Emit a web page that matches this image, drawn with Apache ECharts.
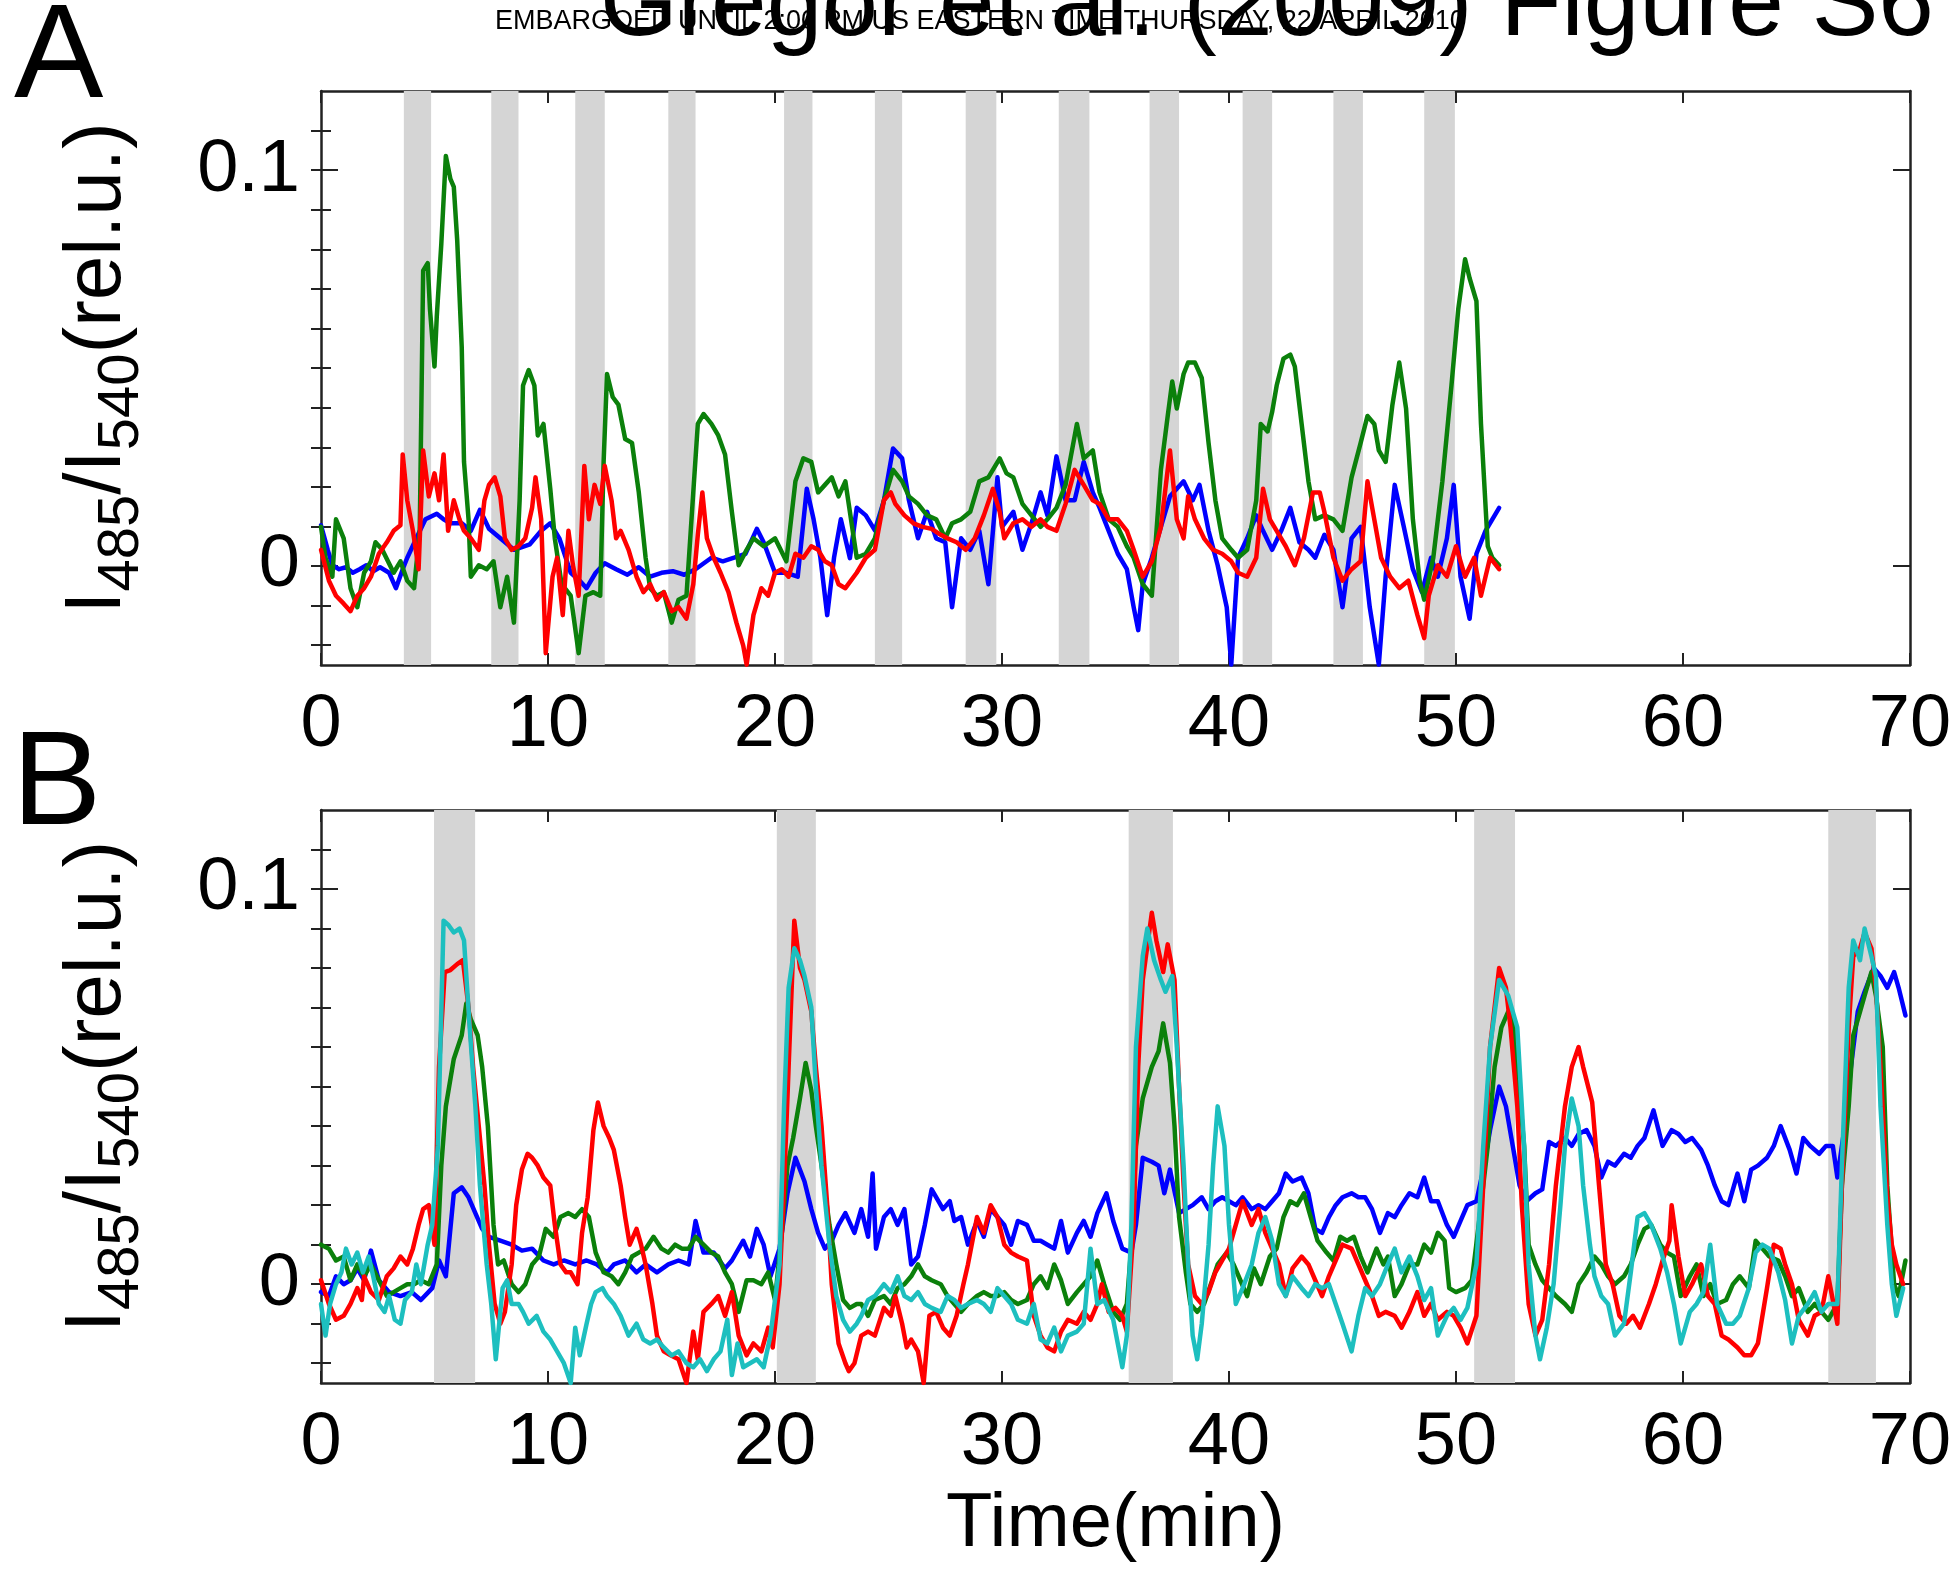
<!DOCTYPE html>
<html><head><meta charset="utf-8">
<script src="https://cdn.jsdelivr.net/npm/echarts@6/dist/echarts.min.js"></script>
<style>html,body{margin:0;padding:0;background:#fff}#c{width:1957px;height:1574px}</style>
</head><body><div id="c"></div>
<script>
// ---------- tick values ----------
const xTickStep = 10;
const yMajor = [0, 0.1];
const yMinor = [-0.02,-0.01,0,0.01,0.02,0.03,0.04,0.05,0.06,0.07,0.08,0.09,0.1,0.11];

// ---------- stimulus periods (min) ----------
const barsA = [[3.65,4.85],[7.5,8.7],[11.2,12.5],[15.3,16.5],[20.4,21.65],[24.4,25.6],[28.4,29.75],[32.5,33.85],[36.5,37.8],[40.6,41.9],[44.6,45.9],[48.6,49.95]];
const barsB = [[4.98,6.79],[20.08,21.8],[35.58,37.53],[50.8,52.6],[66.4,68.5]];

// ---------- panel A series [time(min), ratio] ----------
const aBlue = [[0,0.0103],[0.3,0.004],[0.5,0.0002],[0.8,-0.0008],[1.1,-0.0003],[1.4,-0.0017],[1.7,-0.0008],[2.0,0.0002],[2.3,-0.0013],[2.6,-0.0003],[3.0,-0.0017],[3.3,-0.0056],[3.6,-0.0008],[3.8,0.0021],[4.2,0.007],[4.6,0.0118],[5.1,0.0132],[5.4,0.0118],[5.7,0.0108],[6.2,0.0108],[6.6,0.0089],[7.0,0.0142],[7.4,0.0094],[7.9,0.007],[8.5,0.0041],[9.2,0.0055],[9.7,0.0089],[10.1,0.0108],[10.5,0.007],[11.0,-0.0017],[11.4,-0.0037],[11.7,-0.0056],[12.1,-0.0017],[12.5,0.0007],[13.0,-0.0008],[13.5,-0.0022],[14.0,-0.0003],[14.5,-0.0027],[15.0,-0.0017],[15.5,-0.0013],[16.0,-0.0022],[16.5,-0.0008],[17.2,0.0021],[17.7,0.0012],[18.2,0.0021],[18.7,0.0031],[19.2,0.0094],[19.5,0.006],[20.0,-0.0017],[20.5,-0.0017],[21.0,-0.0027],[21.4,0.0195],[21.7,0.0118],[22.0,0.0021],[22.3,-0.0124],[22.6,0.0021],[22.9,0.0118],[23.3,0.002],[23.6,0.0147],[24.0,0.0128],[24.4,0.009],[24.8,0.0166],[25.2,0.0297],[25.6,0.0272],[25.9,0.0166],[26.3,0.007],[26.7,0.0137],[27.1,0.007],[27.5,0.006],[27.8,-0.0104],[28.2,0.007],[28.6,0.0041],[29.0,0.0089],[29.4,-0.0046],[29.8,0.0224],[30.0,0.0099],[30.5,0.0137],[30.9,0.0041],[31.3,0.0108],[31.7,0.0186],[32.0,0.0128],[32.4,0.0277],[32.8,0.0166],[33.2,0.0166],[33.6,0.0263],[34.0,0.0186],[34.3,0.0147],[34.7,0.0089],[35.1,0.0031],[35.5,-0.0008],[35.8,-0.0104],[36.0,-0.0162],[36.2,-0.0046],[36.6,0.0021],[37.0,0.0099],[37.4,0.0176],[38.0,0.0214],[38.4,0.0166],[38.7,0.0205],[39.1,0.0089],[39.5,0.0002],[39.9,-0.0104],[40.1,-0.0249],[40.4,0.0021],[40.8,0.007],[41.2,0.0128],[41.5,0.0089],[41.9,0.0041],[42.3,0.0089],[42.7,0.0147],[43.1,0.006],[43.5,0.0041],[43.8,0.0021],[44.2,0.0079],[44.6,0.0041],[45.0,-0.0104],[45.4,0.007],[45.8,0.0099],[46.2,-0.0104],[46.6,-0.0249],[46.9,-0.0027],[47.3,0.0205],[47.7,0.0099],[48.1,-0.0008],[48.5,-0.0066],[48.9,0.0021],[49.2,-0.0027],[49.6,0.007],[49.9,0.0205],[50.2,-0.0027],[50.6,-0.0133],[50.9,0.0031],[51.3,0.0089],[51.6,0.0118],[51.9,0.0147]];
const aGreen = [[0,0.0099],[0.2,0.0021],[0.5,-0.0027],[0.66,0.0118],[1.0,0.007],[1.3,-0.0056],[1.6,-0.0104],[1.9,-0.0017],[2.2,0.0012],[2.4,0.006],[2.7,0.0041],[3.2,-0.0017],[3.5,0.0012],[3.8,-0.0037],[4.1,-0.0056],[4.35,0.0089],[4.5,0.0746],[4.7,0.0765],[4.8,0.0649],[5.0,0.0504],[5.1,0.063],[5.3,0.0814],[5.5,0.1036],[5.7,0.0978],[5.85,0.0958],[6.0,0.0823],[6.2,0.0553],[6.3,0.0263],[6.5,0.0118],[6.6,-0.0027],[6.95,0.0002],[7.3,-0.0008],[7.6,0.0012],[7.9,-0.0104],[8.2,-0.0027],[8.5,-0.0143],[8.75,0.0166],[8.9,0.0456],[9.15,0.0495],[9.4,0.0456],[9.55,0.033],[9.8,0.0359],[10.1,0.0195],[10.3,0.007],[10.6,-0.0046],[11.0,-0.0075],[11.35,-0.022],[11.65,-0.0075],[12.0,-0.0066],[12.3,-0.0075],[12.45,0.0263],[12.6,0.0485],[12.85,0.0427],[13.1,0.0408],[13.4,0.0321],[13.7,0.0311],[14.0,0.0186],[14.3,0.0021],[14.5,-0.0056],[14.8,-0.0075],[15.1,-0.0066],[15.45,-0.0143],[15.75,-0.0085],[16.1,-0.0075],[16.4,0.0186],[16.6,0.0359],[16.85,0.0384],[17.2,0.0359],[17.5,0.033],[17.8,0.0282],[18.1,0.0137],[18.4,0.0002],[18.75,0.0041],[19.05,0.007],[19.5,0.005],[20.0,0.007],[20.5,0.0012],[20.9,0.0214],[21.25,0.0272],[21.6,0.0263],[21.9,0.0186],[22.2,0.0205],[22.5,0.0224],[22.8,0.0176],[23.1,0.0214],[23.6,0.0021],[24.0,0.0031],[24.4,0.007],[24.8,0.0166],[25.2,0.0243],[25.6,0.0214],[25.9,0.0176],[26.3,0.0157],[26.7,0.0128],[27.1,0.0118],[27.5,0.007],[27.8,0.0108],[28.2,0.0118],[28.6,0.0137],[29.0,0.0214],[29.4,0.0224],[29.9,0.0272],[30.2,0.0234],[30.5,0.0224],[30.9,0.0157],[31.3,0.0128],[31.7,0.0099],[32.0,0.0118],[32.4,0.0147],[32.8,0.0205],[33.3,0.0359],[33.6,0.0272],[34.0,0.0292],[34.3,0.0186],[34.7,0.0118],[35.1,0.0099],[35.5,0.005],[35.8,0.0021],[36.2,-0.0046],[36.6,-0.0075],[37.0,0.0243],[37.3,0.0379],[37.5,0.0466],[37.7,0.0398],[38.0,0.0485],[38.2,0.0514],[38.5,0.0514],[38.8,0.0475],[39.1,0.0311],[39.4,0.0166],[39.7,0.007],[40.1,0.0041],[40.4,0.0021],[40.8,0.0041],[41.2,0.0166],[41.4,0.0359],[41.7,0.034],[41.9,0.0389],[42.1,0.0456],[42.4,0.0524],[42.7,0.0534],[42.9,0.0504],[43.2,0.0359],[43.5,0.0214],[43.8,0.0118],[44.2,0.0128],[44.6,0.0118],[45.0,0.0089],[45.4,0.0224],[45.8,0.0311],[46.1,0.0379],[46.4,0.0359],[46.6,0.0292],[46.9,0.0263],[47.2,0.0408],[47.5,0.0514],[47.8,0.0398],[48.1,0.0118],[48.4,-0.0037],[48.6,-0.0085],[49.0,0.0021],[49.4,0.0214],[49.8,0.0456],[50.1,0.0649],[50.4,0.0775],[50.6,0.0727],[50.9,0.0669],[51.1,0.0359],[51.4,0.005],[51.6,0.0021],[51.9,0.0002]];
const aRed = [[0,0.0041],[0.35,-0.0037],[0.66,-0.0075],[1.0,-0.0095],[1.3,-0.0114],[1.6,-0.0075],[1.9,-0.0056],[2.2,-0.0027],[2.55,0.0031],[2.9,0.006],[3.2,0.0089],[3.5,0.0103],[3.6,0.0282],[3.8,0.0166],[4.05,0.0089],[4.3,-0.0008],[4.5,0.0292],[4.75,0.0176],[5.0,0.0234],[5.2,0.0166],[5.4,0.0282],[5.6,0.0089],[5.85,0.0166],[6.1,0.0118],[6.3,0.0089],[6.6,0.007],[6.95,0.0041],[7.2,0.0166],[7.4,0.0205],[7.65,0.0224],[7.9,0.0176],[8.1,0.007],[8.4,0.0041],[8.7,0.005],[9.0,0.007],[9.3,0.0147],[9.45,0.0224],[9.7,0.0118],[9.9,-0.022],[10.2,-0.0027],[10.4,0.0021],[10.65,-0.0124],[10.9,0.0089],[11.1,0.0002],[11.35,-0.0075],[11.6,0.0253],[11.8,0.0118],[12.05,0.0205],[12.3,0.0157],[12.5,0.0253],[12.8,0.0166],[13.0,0.007],[13.2,0.0089],[13.55,0.0041],[13.9,-0.0027],[14.2,-0.0066],[14.5,-0.0046],[14.8,-0.0085],[15.1,-0.0066],[15.45,-0.0114],[15.75,-0.0104],[16.1,-0.0133],[16.4,-0.0046],[16.6,0.0079],[16.8,0.0186],[17.0,0.007],[17.3,0.0021],[17.6,-0.0017],[17.95,-0.0066],[18.3,-0.0143],[18.6,-0.0201],[18.75,-0.0249],[19.05,-0.0124],[19.4,-0.0056],[19.7,-0.0075],[20.0,-0.0017],[20.3,-0.0008],[20.6,-0.0027],[20.9,0.0031],[21.25,0.0021],[21.6,0.005],[21.9,0.0041],[22.2,0.0012],[22.5,0.0002],[22.8,-0.0046],[23.1,-0.0056],[23.6,-0.0017],[24.0,0.0021],[24.4,0.0041],[24.8,0.0166],[25.1,0.0186],[25.3,0.0157],[25.7,0.0128],[26.1,0.0108],[26.5,0.0099],[26.9,0.0094],[27.3,0.0079],[27.6,0.007],[28.0,0.006],[28.4,0.0041],[28.8,0.007],[29.2,0.0128],[29.6,0.0195],[29.9,0.0137],[30.1,0.007],[30.5,0.0108],[30.9,0.0118],[31.3,0.0099],[31.7,0.0118],[32.0,0.0099],[32.4,0.0089],[32.8,0.0157],[33.2,0.0243],[33.6,0.0205],[34.0,0.0166],[34.3,0.0157],[34.7,0.0118],[35.1,0.0118],[35.5,0.0089],[35.8,0.0041],[36.2,-0.0027],[36.6,0.0012],[37.0,0.0099],[37.4,0.0292],[37.7,0.0118],[38.0,0.007],[38.2,0.0176],[38.5,0.0118],[38.9,0.007],[39.3,0.0041],[39.7,0.0031],[40.1,0.0012],[40.4,-0.0017],[40.8,-0.0027],[41.2,0.0021],[41.5,0.0195],[41.8,0.0118],[42.1,0.0089],[42.5,0.005],[42.9,0.0002],[43.3,0.007],[43.7,0.0186],[44.0,0.0186],[44.2,0.0137],[44.6,0.0021],[45.0,-0.0037],[45.4,-0.0008],[45.8,0.0012],[46.1,0.0214],[46.4,0.0118],[46.7,0.0021],[47.1,-0.0027],[47.5,-0.0056],[47.9,-0.0037],[48.3,-0.0124],[48.6,-0.0182],[48.8,-0.0075],[49.2,0.0002],[49.6,-0.0027],[50.0,0.005],[50.4,-0.0027],[50.8,0.0021],[51.1,-0.0075],[51.5,0.0021],[51.9,-0.0008]];

// ---------- panel B series [time(min), ratio] ----------
const bBlue = [[0,-0.002],[0.35,-0.003],[0.66,0.002],[1.0,0],[1.3,0.001],[1.6,0.004],[1.9,0.001],[2.2,0.0085],[2.55,0.001],[3.0,-0.002],[3.5,-0.003],[4.0,-0.002],[4.4,-0.004],[4.9,-0.001],[5.2,0.006],[5.5,0.002],[5.85,0.023],[6.2,0.0245],[6.5,0.022],[6.8,0.018],[7.1,0.014],[7.4,0.012],[7.9,0.011],[8.4,0.010],[8.85,0.0085],[9.3,0.009],[9.8,0.006],[10.25,0.005],[10.7,0.006],[11.2,0.005],[11.7,0.006],[12.15,0.005],[12.6,0.003],[12.9,0.005],[13.4,0.006],[13.9,0.003],[14.3,0.005],[14.8,0.003],[15.3,0.005],[15.75,0.006],[16.2,0.005],[16.5,0.016],[16.85,0.008],[17.3,0.008],[17.8,0.004],[18.1,0.006],[18.6,0.011],[18.9,0.007],[19.2,0.014],[19.5,0.010],[19.8,0.002],[20.2,0.009],[20.55,0.023],[20.9,0.032],[21.3,0.026],[21.6,0.019],[21.9,0.013],[22.2,0.009],[22.5,0.011],[22.8,0.015],[23.1,0.018],[23.5,0.013],[23.8,0.019],[24.1,0.012],[24.3,0.028],[24.45,0.009],[24.8,0.017],[25.1,0.019],[25.4,0.015],[25.7,0.019],[26.0,0.005],[26.3,0.007],[26.6,0.015],[26.9,0.024],[27.2,0.021],[27.4,0.019],[27.7,0.021],[27.9,0.016],[28.2,0.017],[28.5,0.010],[28.9,0.016],[29.2,0.012],[29.5,0.019],[29.8,0.017],[30.1,0.015],[30.4,0.010],[30.7,0.016],[31.1,0.015],[31.4,0.011],[31.7,0.011],[32.0,0.010],[32.3,0.009],[32.6,0.016],[32.9,0.008],[33.3,0.013],[33.6,0.016],[33.9,0.012],[34.2,0.018],[34.6,0.023],[34.9,0.016],[35.3,0.009],[35.7,0.008],[35.9,0.015],[36.2,0.032],[36.6,0.031],[36.9,0.030],[37.15,0.023],[37.4,0.029],[37.8,0.018],[38.1,0.019],[38.4,0.020],[38.8,0.022],[39.1,0.019],[39.4,0.021],[39.7,0.022],[40.0,0.021],[40.3,0.020],[40.6,0.022],[41.0,0.019],[41.3,0.020],[41.6,0.019],[41.9,0.021],[42.2,0.023],[42.5,0.028],[42.8,0.026],[43.2,0.027],[43.5,0.023],[43.8,0.014],[44.1,0.013],[44.4,0.017],[44.7,0.020],[45.0,0.022],[45.4,0.023],[45.7,0.022],[46.0,0.022],[46.3,0.019],[46.65,0.013],[47.0,0.018],[47.3,0.017],[47.6,0.020],[47.95,0.023],[48.3,0.022],[48.6,0.027],[48.9,0.021],[49.2,0.021],[49.6,0.015],[49.9,0.012],[50.2,0.016],[50.5,0.020],[50.9,0.021],[51.2,0.029],[51.5,0.039],[51.9,0.050],[52.2,0.045],[52.5,0.035],[52.8,0.025],[53.1,0.021],[53.5,0.023],[53.8,0.024],[54.1,0.036],[54.4,0.035],[54.8,0.037],[55.1,0.035],[55.4,0.038],[55.75,0.039],[56.1,0.035],[56.4,0.027],[56.7,0.031],[57.0,0.030],[57.4,0.033],[57.7,0.032],[58.0,0.035],[58.3,0.037],[58.7,0.044],[59.1,0.035],[59.5,0.039],[59.8,0.038],[60.1,0.036],[60.4,0.037],[60.8,0.034],[61.1,0.030],[61.4,0.025],[61.7,0.021],[62.0,0.020],[62.4,0.028],[62.7,0.021],[63.0,0.029],[63.3,0.030],[63.7,0.032],[64.0,0.035],[64.3,0.040],[64.7,0.034],[65.0,0.028],[65.3,0.037],[65.6,0.035],[66.0,0.033],[66.3,0.035],[66.6,0.035],[66.8,0.027],[67.1,0.039],[67.4,0.055],[67.7,0.069],[68.0,0.074],[68.4,0.080],[68.7,0.078],[69.0,0.075],[69.3,0.079],[69.5,0.075],[69.8,0.068]];
const bGreen = [[0,0.010],[0.35,0.009],[0.66,0.006],[1.0,0.007],[1.3,0.001],[1.6,0.005],[1.9,0.002],[2.2,0.005],[2.55,0.001],[2.9,-0.003],[3.2,-0.002],[3.5,-0.001],[3.8,0.0],[4.1,0.0],[4.4,0.001],[4.75,0.0],[5.1,0.005],[5.3,0.030],[5.5,0.045],[5.85,0.057],[6.2,0.063],[6.4,0.071],[6.6,0.067],[6.9,0.063],[7.1,0.055],[7.35,0.040],[7.6,0.015],[7.8,0.005],[8.05,0.006],[8.4,0.0],[8.7,-0.002],[9.0,0.0],[9.3,0.005],[9.6,0.007],[9.9,0.014],[10.25,0.012],[10.55,0.017],[10.9,0.018],[11.2,0.017],[11.5,0.019],[11.8,0.017],[12.1,0.008],[12.45,0.003],[12.8,0.002],[13.1,0.0],[13.4,0.003],[13.7,0.007],[14.0,0.008],[14.3,0.009],[14.65,0.012],[15.0,0.009],[15.3,0.008],[15.6,0.010],[15.9,0.009],[16.2,0.009],[16.5,0.012],[16.85,0.010],[17.2,0.008],[17.5,0.007],[17.8,0.003],[18.1,0.0],[18.4,-0.007],[18.75,0.001],[19.05,0.001],[19.4,0.0],[19.7,0.003],[20.0,-0.004],[20.3,0.013],[20.55,0.030],[20.8,0.037],[21.1,0.047],[21.35,0.056],[21.6,0.049],[21.8,0.040],[22.05,0.030],[22.4,0.015],[22.7,0.005],[23.0,-0.004],[23.3,-0.006],[23.6,-0.005],[23.8,-0.005],[24.1,-0.008],[24.4,-0.004],[24.8,-0.003],[25.1,-0.005],[25.4,-0.001],[25.7,0.0],[26.0,0.002],[26.3,0.005],[26.6,0.002],[26.9,0.001],[27.3,0.0],[27.6,-0.003],[27.9,-0.005],[28.2,-0.007],[28.5,-0.005],[28.9,-0.003],[29.2,-0.002],[29.5,-0.003],[29.8,-0.003],[30.1,-0.002],[30.4,-0.004],[30.7,-0.005],[31.1,-0.004],[31.4,0.0],[31.7,0.002],[32.0,-0.001],[32.3,0.005],[32.6,0.001],[32.9,-0.005],[33.3,-0.002],[33.6,0.0],[33.9,0.002],[34.2,0.006],[34.5,0.0],[34.9,-0.007],[35.2,-0.009],[35.5,-0.005],[35.7,0.010],[35.9,0.035],[36.2,0.047],[36.6,0.055],[36.9,0.059],[37.1,0.066],[37.4,0.056],[37.6,0.040],[37.8,0.017],[38.1,0.003],[38.3,-0.005],[38.6,-0.007],[38.9,-0.005],[39.2,0.0],[39.5,0.005],[39.9,0.008],[40.2,0.005],[40.5,0.001],[40.8,-0.003],[41.1,0.004],[41.4,0.0],[41.8,0.007],[42.1,0.009],[42.4,0.017],[42.7,0.021],[43.0,0.020],[43.3,0.023],[43.6,0.017],[43.9,0.011],[44.3,0.008],[44.6,0.006],[44.9,0.012],[45.2,0.011],[45.5,0.012],[45.8,0.007],[46.1,0.003],[46.5,0.009],[46.8,0.005],[47.0,0.007],[47.3,-0.003],[47.6,0.0],[47.95,0.005],[48.3,0.005],[48.6,0.010],[48.9,0.008],[49.2,0.013],[49.5,0.011],[49.7,-0.001],[50.0,-0.002],[50.4,-0.001],[50.7,0.001],[51.0,0.015],[51.4,0.035],[51.7,0.055],[52.0,0.065],[52.3,0.069],[52.5,0.068],[52.7,0.055],[53.0,0.035],[53.2,0.010],[53.5,0.005],[53.8,0.001],[54.1,-0.001],[54.4,-0.003],[54.8,-0.005],[55.1,-0.007],[55.4,0.0],[55.75,0.003],[56.1,0.007],[56.4,0.005],[56.7,0.002],[57.0,0.0],[57.4,0.002],[57.7,0.005],[58.0,0.010],[58.3,0.014],[58.6,0.015],[59.0,0.010],[59.3,0.008],[59.6,0.007],[59.9,-0.003],[60.3,0.002],[60.6,0.005],[60.9,-0.003],[61.2,0.0],[61.5,-0.005],[61.9,-0.004],[62.2,0.0],[62.5,0.002],[62.9,-0.001],[63.2,0.011],[63.5,0.009],[63.8,0.007],[64.2,0.006],[64.5,0.002],[64.8,-0.003],[65.1,-0.001],[65.5,-0.007],[65.8,-0.005],[66.1,-0.007],[66.4,-0.009],[66.8,-0.005],[67.0,0.025],[67.3,0.045],[67.5,0.063],[67.8,0.069],[68.0,0.073],[68.3,0.079],[68.5,0.073],[68.8,0.060],[69.0,0.025],[69.3,0.0],[69.5,-0.003],[69.8,0.006]];
const bRed = [[0,0.001],[0.35,-0.005],[0.66,-0.009],[1.0,-0.008],[1.3,-0.005],[1.6,-0.001],[1.8,-0.004],[1.9,0.002],[2.2,-0.002],[2.55,-0.004],[2.9,0.002],[3.2,0.004],[3.5,0.007],[3.8,0.005],[4.05,0.009],[4.3,0.015],[4.5,0.019],[4.75,0.020],[5.0,0.010],[5.2,0.055],[5.45,0.079],[5.7,0.0795],[6.0,0.081],[6.25,0.082],[6.5,0.070],[6.7,0.055],[6.95,0.040],[7.2,0.025],[7.4,0.010],[7.65,-0.005],[7.9,-0.010],[8.1,-0.007],[8.4,0.005],[8.6,0.020],[8.85,0.029],[9.1,0.033],[9.3,0.032],[9.55,0.030],[9.8,0.027],[10.1,0.025],[10.3,0.015],[10.55,0.005],[10.8,0.003],[11.0,0.003],[11.3,0.0],[11.5,0.013],[11.75,0.022],[12.0,0.039],[12.2,0.046],[12.45,0.040],[12.7,0.037],[12.9,0.034],[13.2,0.025],[13.4,0.017],[13.6,0.010],[13.9,0.014],[14.1,0.010],[14.3,0.005],[14.6,-0.005],[14.8,-0.013],[15.1,-0.017],[15.4,-0.018],[15.75,-0.019],[16.1,-0.025],[16.4,-0.012],[16.6,-0.019],[16.85,-0.007],[17.2,-0.005],[17.5,-0.003],[17.8,-0.008],[18.1,-0.002],[18.4,-0.013],[18.75,-0.018],[19.05,-0.015],[19.4,-0.017],[19.7,-0.011],[19.9,-0.016],[20.2,0.0],[20.4,0.025],[20.6,0.055],[20.85,0.092],[21.1,0.080],[21.3,0.077],[21.6,0.069],[21.8,0.055],[22.05,0.040],[22.3,0.020],[22.5,0.0],[22.8,-0.015],[23.1,-0.020],[23.25,-0.022],[23.5,-0.020],[23.8,-0.013],[24.1,-0.012],[24.4,-0.013],[24.8,-0.006],[25.1,-0.008],[25.3,-0.003],[25.6,-0.010],[25.8,-0.016],[26.0,-0.014],[26.3,-0.017],[26.55,-0.025],[26.8,-0.008],[27.1,-0.007],[27.4,-0.011],[27.7,-0.013],[28.0,-0.008],[28.3,0.0],[28.5,0.005],[28.9,0.017],[29.2,0.013],[29.5,0.020],[29.8,0.017],[30.1,0.010],[30.4,0.008],[30.7,0.007],[31.1,0.006],[31.4,-0.008],[31.7,-0.013],[32.0,-0.016],[32.3,-0.017],[32.6,-0.012],[32.9,-0.009],[33.3,-0.010],[33.6,-0.007],[33.9,-0.009],[34.2,-0.005],[34.4,0.0],[34.7,-0.007],[35.0,-0.006],[35.3,-0.008],[35.5,-0.012],[35.8,0.015],[36.0,0.055],[36.2,0.077],[36.6,0.094],[36.8,0.087],[37.1,0.079],[37.3,0.086],[37.6,0.077],[37.8,0.050],[38.0,0.025],[38.2,0.005],[38.5,-0.003],[38.8,-0.005],[39.1,-0.002],[39.4,0.003],[39.7,0.006],[40.0,0.009],[40.3,0.015],[40.6,0.021],[41.0,0.015],[41.3,0.019],[41.6,0.013],[41.9,0.009],[42.2,0.005],[42.5,-0.003],[42.8,0.004],[43.2,0.007],[43.5,0.005],[43.8,0.001],[44.1,-0.003],[44.4,0.002],[44.7,0.006],[45.0,0.010],[45.4,0.009],[45.7,0.005],[46.0,0.001],[46.3,-0.003],[46.6,-0.008],[46.9,-0.007],[47.3,-0.008],[47.6,-0.011],[47.95,-0.007],[48.3,-0.002],[48.6,-0.008],[48.9,-0.005],[49.2,-0.009],[49.6,-0.007],[49.9,-0.008],[50.2,-0.011],[50.5,-0.015],[50.9,-0.008],[51.2,0.025],[51.5,0.060],[51.9,0.080],[52.2,0.075],[52.4,0.065],[52.7,0.045],[52.9,0.020],[53.2,-0.005],[53.5,-0.013],[53.8,-0.009],[54.1,0.005],[54.4,0.025],[54.8,0.045],[55.1,0.055],[55.4,0.060],[55.6,0.055],[56.0,0.046],[56.3,0.025],[56.6,0.005],[56.9,0.0],[57.2,-0.008],[57.5,-0.010],[57.8,-0.008],[58.1,-0.011],[58.5,-0.005],[58.8,0.0],[59.1,0.006],[59.4,0.011],[59.5,0.020],[59.8,0.007],[60.1,-0.003],[60.4,0.0],[60.8,0.005],[61.1,-0.003],[61.4,-0.005],[61.7,-0.013],[62.0,-0.014],[62.4,-0.016],[62.7,-0.018],[63.0,-0.018],[63.3,-0.015],[63.7,-0.001],[64.0,0.010],[64.3,0.009],[64.5,0.005],[64.8,0.0],[65.1,-0.009],[65.5,-0.013],[65.8,-0.008],[66.1,-0.007],[66.4,0.002],[66.8,-0.010],[67.0,0.025],[67.3,0.065],[67.5,0.083],[67.8,0.085],[68.0,0.089],[68.3,0.085],[68.5,0.075],[68.7,0.055],[69.0,0.022],[69.2,0.010],[69.4,0.005],[69.7,0.0]];
const bCyan = [[0,-0.005],[0.2,-0.013],[0.4,-0.005],[0.66,0.0],[0.9,0.003],[1.1,0.009],[1.35,0.005],[1.6,0.008],[1.85,0.003],[2.1,0.007],[2.3,0.002],[2.55,-0.005],[2.8,-0.007],[3.0,-0.003],[3.25,-0.009],[3.5,-0.010],[3.7,-0.004],[4.0,-0.002],[4.2,0.005],[4.4,0.0],[4.7,0.010],[4.9,0.015],[5.15,0.035],[5.4,0.092],[5.6,0.091],[5.85,0.089],[6.1,0.090],[6.3,0.087],[6.55,0.065],[6.8,0.045],[7.0,0.025],[7.3,0.005],[7.5,-0.005],[7.7,-0.019],[8.0,-0.001],[8.2,0.001],[8.4,-0.005],[8.7,-0.005],[8.9,-0.007],[9.15,-0.010],[9.5,-0.008],[9.8,-0.012],[10.1,-0.014],[10.4,-0.017],[10.7,-0.020],[11.0,-0.025],[11.2,-0.011],[11.4,-0.018],[11.7,-0.010],[11.9,-0.005],[12.1,-0.002],[12.4,-0.001],[12.6,-0.003],[12.9,-0.005],[13.2,-0.008],[13.55,-0.013],[13.9,-0.010],[14.2,-0.014],[14.5,-0.015],[14.8,-0.014],[15.1,-0.016],[15.45,-0.018],[15.75,-0.017],[16.1,-0.020],[16.4,-0.021],[16.7,-0.019],[17.0,-0.022],[17.3,-0.019],[17.6,-0.017],[17.9,-0.009],[18.1,-0.023],[18.35,-0.015],[18.6,-0.021],[18.9,-0.020],[19.2,-0.019],[19.5,-0.021],[19.8,-0.013],[20.2,0.005],[20.4,0.045],[20.6,0.075],[20.85,0.085],[21.1,0.082],[21.3,0.078],[21.6,0.070],[21.8,0.050],[22.05,0.030],[22.4,0.010],[22.7,-0.003],[23.0,-0.009],[23.3,-0.012],[23.6,-0.010],[23.8,-0.008],[24.1,-0.004],[24.4,-0.003],[24.8,0.0],[25.1,-0.002],[25.4,0.002],[25.7,-0.003],[26.0,-0.004],[26.3,-0.002],[26.6,-0.005],[26.9,-0.006],[27.3,-0.007],[27.6,-0.003],[27.9,-0.004],[28.2,-0.006],[28.5,-0.005],[28.9,-0.004],[29.2,-0.005],[29.5,-0.007],[29.8,-0.001],[30.1,-0.003],[30.4,-0.005],[30.7,-0.009],[31.1,-0.010],[31.4,-0.005],[31.7,-0.014],[32.0,-0.015],[32.3,-0.011],[32.6,-0.017],[32.9,-0.013],[33.3,-0.012],[33.6,-0.010],[33.9,0.009],[34.2,-0.005],[34.5,-0.004],[34.9,-0.009],[35.1,-0.015],[35.3,-0.021],[35.5,-0.013],[35.7,0.015],[35.9,0.060],[36.2,0.083],[36.4,0.090],[36.7,0.082],[37.0,0.077],[37.2,0.074],[37.5,0.078],[37.7,0.060],[38.0,0.030],[38.2,0.005],[38.4,-0.013],[38.6,-0.019],[38.8,-0.010],[39.1,0.010],[39.3,0.030],[39.5,0.045],[39.8,0.035],[40.0,0.015],[40.3,-0.005],[40.6,-0.001],[41.0,0.005],[41.3,0.013],[41.6,0.017],[41.9,0.011],[42.2,0.0],[42.5,-0.003],[42.8,0.002],[43.2,-0.001],[43.5,-0.003],[43.8,0.0],[44.1,-0.001],[44.4,0.0],[44.7,-0.005],[45.0,-0.010],[45.4,-0.017],[45.7,-0.008],[46.0,-0.001],[46.3,-0.003],[46.65,0.0],[47.0,0.005],[47.3,0.009],[47.6,0.003],[47.95,0.007],[48.3,0.002],[48.6,-0.004],[48.9,-0.001],[49.2,-0.013],[49.6,-0.008],[49.9,-0.006],[50.2,-0.009],[50.5,-0.006],[50.9,0.005],[51.2,0.035],[51.5,0.060],[51.9,0.077],[52.3,0.073],[52.5,0.069],[52.7,0.065],[53.0,0.035],[53.2,0.005],[53.5,-0.013],[53.7,-0.019],[54.0,-0.011],[54.3,0.0],[54.6,0.020],[54.8,0.035],[55.1,0.047],[55.4,0.040],[55.6,0.025],[55.9,0.010],[56.1,0.002],[56.4,-0.003],[56.7,-0.005],[57.0,-0.013],[57.4,-0.010],[57.7,0.003],[58.0,0.017],[58.3,0.018],[58.6,0.015],[59.0,0.009],[59.3,0.003],[59.6,-0.005],[59.9,-0.015],[60.3,-0.007],[60.6,-0.005],[60.9,-0.002],[61.2,0.010],[61.5,-0.005],[61.9,-0.010],[62.2,-0.010],[62.5,-0.008],[62.9,-0.001],[63.2,0.008],[63.5,0.010],[63.8,0.009],[64.2,0.003],[64.5,-0.004],[64.8,-0.015],[65.1,-0.008],[65.5,-0.005],[65.8,-0.002],[66.1,-0.007],[66.4,-0.005],[66.8,-0.005],[67.0,0.030],[67.3,0.075],[67.5,0.087],[67.8,0.082],[68.0,0.090],[68.3,0.083],[68.5,0.078],[68.7,0.045],[69.0,0.015],[69.2,0.0],[69.4,-0.008],[69.7,-0.001]];

// ---------- text ----------
const titleText = 'Gregor et al. (2009) Figure S6';
const embargoText = 'EMBARGOED UNTIL 2:00 PM US EASTERN TIME THURSDAY, 22 APRIL 2010';
const yName = '{m|I}{s|485}{m|/I}{s|540}{m|(rel.u.)}';
const xName = 'Time(min)';

// ---------- styling ----------
const FONT = '"Liberation Sans", Arial, Helvetica, sans-serif';
const AX = '#222';
const C = {blue:'#0000ff', green:'#0b800b', red:'#ff0000', cyan:'#1dbfbf', bar:'#d5d5d5'};
const Y_MIN = -0.025, Y_MAX = 0.12;

const grids = [
  {left:321, top:91, width:1589, height:574},
  {left:321, top:810, width:1589, height:573}
];

function xAxes(g, withName){
  const base = {type:'value', gridIndex:g, min:0, max:70, interval:xTickStep,
    splitLine:{show:false},
    axisLine:{show:true, onZero:false, lineStyle:{color:AX, width:2.5}},
    axisTick:{show:true, inside:true, length:12, lineStyle:{color:AX, width:2}}};
  return [
    Object.assign({}, base, {position:'bottom',
      axisLabel:{show:true, fontSize:74, fontFamily:FONT, color:'#000', margin:24},
      name: withName ? xName : '', nameLocation:'middle', nameGap:104,
      nameTextStyle:{fontSize:76, fontFamily:FONT, color:'#000'}}),
    Object.assign({}, base, {position:'top', axisLabel:{show:false}})
  ];
}
function yAxes(g){
  const base = {type:'value', gridIndex:g, min:Y_MIN, max:Y_MAX, splitLine:{show:false}};
  const line = {show:true, onZero:false, lineStyle:{color:AX, width:2.5}};
  return [
    Object.assign({}, base, {position:'left', axisLine:line,
      axisTick:{show:true, inside:true, length:17, customValues:yMajor, lineStyle:{color:AX, width:2}},
      axisLabel:{show:true, customValues:yMajor, fontSize:74, fontFamily:FONT, color:'#000', margin:21,
        formatter:(v)=> String(Math.round(v*10)/10)},
      name:yName, nameLocation:'middle', nameRotate:90, nameGap:170,
      nameTextStyle:{color:'#000', fontFamily:FONT, padding:[0,0,0,20], rich:{
        m:{fontSize:80, lineHeight:106, fontFamily:FONT, color:'#000'},
        s:{fontSize:58, lineHeight:30, verticalAlign:'bottom', fontFamily:FONT, color:'#000'}}}}),
    Object.assign({}, base, {position:'left', axisLine:{show:false},
      axisTick:{show:true, inside:true, length:10, customValues:yMinor, lineStyle:{color:AX, width:2}},
      axisLabel:{show:false}}),
    Object.assign({}, base, {position:'right', axisLine:line,
      axisTick:{show:true, inside:true, length:17, customValues:yMajor, lineStyle:{color:AX, width:2}},
      axisLabel:{show:false}}),
    Object.assign({}, base, {position:'right', axisLine:{show:false},
      axisTick:{show:true, inside:true, length:10, customValues:yMinor, lineStyle:{color:AX, width:2}},
      axisLabel:{show:false}})
  ];
}

function lineSeries(data, color, xi, yi, z, bars){
  const s = {type:'line', data:data, xAxisIndex:xi, yAxisIndex:yi, showSymbol:false, symbol:'none',
    lineStyle:{color:color, width:4.5, join:'round', cap:'round'}, itemStyle:{color:color}, z:z, animation:false, silent:true};
  if (bars) {
    s.markArea = {silent:true, z:1, itemStyle:{color:C.bar, opacity:1},
      data: bars.map(b => [{xAxis:b[0]},{xAxis:b[1]}])};
  }
  return s;
}

const option = {
  backgroundColor:'#ffffff',
  animation:false,
  grid: grids,
  xAxis: [].concat(xAxes(0,false), xAxes(1,true)),
  yAxis: [].concat(yAxes(0), yAxes(1)),
  series: [
    lineSeries(aBlue, C.blue, 0, 0, 3, barsA),
    lineSeries(aGreen, C.green, 0, 0, 4),
    lineSeries(aRed, C.red, 0, 0, 5),
    lineSeries(bBlue, C.blue, 2, 4, 3, barsB),
    lineSeries(bGreen, C.green, 2, 4, 4),
    lineSeries(bRed, C.red, 2, 4, 5),
    lineSeries(bCyan, C.cyan, 2, 4, 6)
  ],
  graphic: [
    {type:'text', x:600, y:7, z:10, style:{text:titleText, font:'100px '+FONT, fill:'#000', align:'left', verticalAlign:'middle'}},
    {type:'text', x:495, y:22, z:11, style:{text:embargoText, font:'27px '+FONT, fill:'#000', align:'left', verticalAlign:'middle'}},
    {type:'text', x:14, y:60, z:10, style:{text:'A', font:'134px '+FONT, fill:'#000', align:'left', verticalAlign:'middle'}},
    {type:'text', x:12, y:787, z:10, style:{text:'B', font:'134px '+FONT, fill:'#000', align:'left', verticalAlign:'middle'}}
  ]
};

const chart = echarts.init(document.getElementById('c'), null, {renderer:'canvas', width:1957, height:1574});
chart.setOption(option);
</script></body></html>
